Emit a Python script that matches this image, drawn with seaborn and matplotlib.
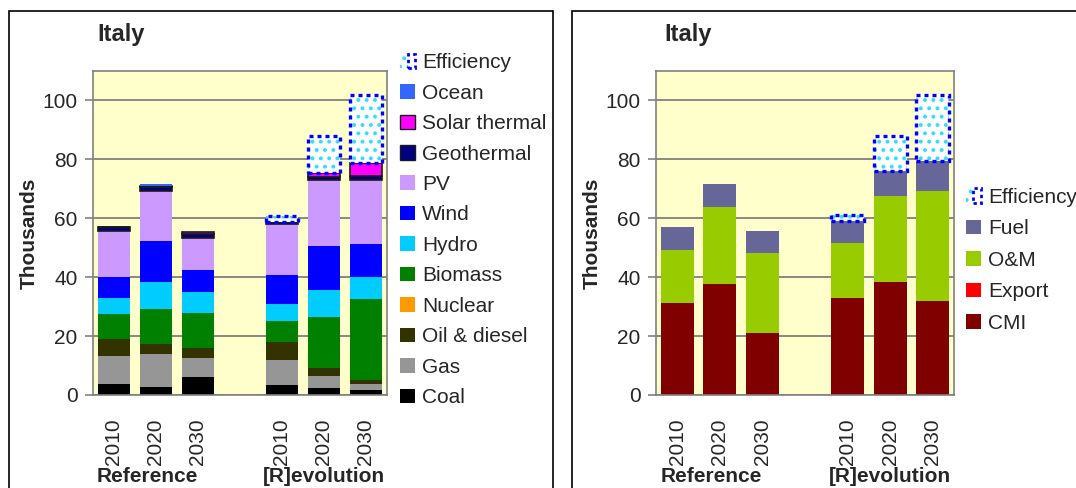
import matplotlib
matplotlib.use("Agg")
import matplotlib.pyplot as plt
import matplotlib.transforms as mtransforms
from matplotlib.patches import Patch, Rectangle
from matplotlib.legend_handler import HandlerTuple
import numpy as np
import pandas as pd
import seaborn as sns

# bar slots: three Reference years, a gap, three [R]evolution years
slots = [0, 1, 2, 4, 5, 6]
years = ["2010", "2020", "2030", "2010", "2020", "2030"]
scenarios = ["Reference", "[R]evolution"]
scenario_x = [0.8, 5.0]

# left chart (thousands)
coal = [3.7, 2.7, 6.1, 3.4, 2.4, 1.7]
gas = [9.5, 11.2, 6.5, 8.5, 4.1, 2.0]
oil_diesel = [5.8, 3.4, 3.4, 6.1, 2.7, 1.4]
nuclear = [0, 0, 0, 0, 0, 0]
biomass = [8.5, 11.9, 11.9, 7.1, 17.3, 27.5]
hydro = [5.5, 9.2, 7.1, 5.8, 9.2, 7.5]
wind = [7.1, 13.9, 7.5, 9.9, 14.9, 11.2]
pv = [15.6, 17.0, 10.9, 17.3, 22.5, 21.8]
geothermal = [1.2, 1.4, 1.3, 0.7, 1.0, 1.3]
solar_thermal = [0.2, 0.4, 0.7, 0.1, 1.3, 4.4]
ocean = [0, 0.5, 0, 0, 0, 0]
efficiency_tech = [0, 0, 0, 1.8, 12.4, 22.9]

# right chart (thousands)
cmi = [31.1, 37.6, 21.2, 33.1, 38.3, 31.8]
export = [0, 0, 0, 0, 0, 0]
om = [18.1, 26.3, 27.0, 18.5, 29.4, 37.6]
fuel = [7.9, 7.8, 7.5, 7.5, 8.5, 9.9]
efficiency_cost = [0, 0, 0, 1.9, 11.8, 22.6]

tech_layers = [
    ("Coal", coal, "#000000", False),
    ("Gas", gas, "#969696", False),
    ("Oil & diesel", oil_diesel, "#333300", False),
    ("Nuclear", nuclear, "#FF9900", False),
    ("Biomass", biomass, "#008000", False),
    ("Hydro", hydro, "#00CCFF", False),
    ("Wind", wind, "#0000FF", False),
    ("PV", pv, "#CC99FF", False),
    ("Geothermal", geothermal, "#000080", True),
    ("Solar thermal", solar_thermal, "#FF00FF", True),
    ("Ocean", ocean, "#3366FF", False),
]
cost_layers = [
    ("CMI", cmi, "#800000", False),
    ("Export", export, "#FF0000", False),
    ("O&M", om, "#99CC00", False),
    ("Fuel", fuel, "#666699", False),
]

sns.set_style("white")
plt.rcParams["font.family"] = ["Liberation Sans", "DejaVu Sans"]
plt.rcParams["hatch.linewidth"] = 1.6

FS = 15
GRAY = "#808080"
BAR_W = 0.78

fig = plt.figure(figsize=(10.76, 4.88), dpi=100)
ax_l = fig.add_axes([93 / 1076, 1 - 395 / 488, 294 / 1076, 324 / 488])
ax_r = fig.add_axes([656 / 1076, 1 - 395 / 488, 298 / 1076, 324 / 488])


def draw_stack(ax, layers, eff):
    bottom = np.zeros(len(slots))
    for name, vals, color, edged in layers:
        df = pd.DataFrame({"slot": slots, "value": vals})
        sns.barplot(data=df, x="slot", y="value", native_scale=True, orient="x",
                    errorbar=None, color=color, saturation=1, width=BAR_W,
                    bottom=bottom.copy(), ax=ax)
        for patch, v in zip(ax.containers[-1], vals):
            patch.set_facecolor(color)
            if edged and v > 0:
                patch.set_edgecolor("#1a1a1a")
                patch.set_linewidth(1.2)
            else:
                patch.set_linewidth(0)
        bottom += np.array(vals)
    # efficiency savings on top of the [R]evolution bars
    keep = [i for i, v in enumerate(eff) if v > 0]
    df = pd.DataFrame({"slot": [slots[i] for i in keep], "value": [eff[i] for i in keep]})
    base = [bottom[i] for i in keep]
    sns.barplot(data=df, x="slot", y="value", native_scale=True, orient="x",
                errorbar=None, color="white", saturation=1, width=BAR_W,
                bottom=base, ax=ax)
    for patch in ax.containers[-1]:
        patch.set_facecolor("white")
        patch.set_edgecolor("#33DDFF")
        patch.set_hatch("..")
        patch.set_linewidth(0)
    sns.barplot(data=df, x="slot", y="value", native_scale=True, orient="x",
                errorbar=None, color="white", saturation=1, width=BAR_W,
                bottom=base, ax=ax)
    for patch in ax.containers[-1]:
        patch.set_fill(False)
        patch.set_edgecolor("#0000FF")
        patch.set_linestyle((0, (1.2, 1.2)))
        patch.set_linewidth(2.4)


def style_axes(ax):
    ax.set_facecolor("#FFFFCC")
    ax.set_xlim(-0.5, 6.5)
    ax.set_ylim(0, 110)
    ax.set_yticks(range(0, 101, 20))
    ax.yaxis.grid(True, color=GRAY, linewidth=1.3)
    ax.xaxis.grid(False)
    ax.set_axisbelow(True)
    for sp in ax.spines.values():
        sp.set_visible(True)
        sp.set_color(GRAY)
        sp.set_linewidth(1.2)
    ax.set_xticks(slots)
    ax.set_xticklabels(years, rotation=90, fontsize=FS)
    ax.set_xticks(np.arange(-0.5, 7, 1), minor=True)
    ax.tick_params(axis="x", which="major", length=0, pad=17)
    ax.tick_params(axis="x", which="minor", length=7, width=1.2, color=GRAY, direction="out")
    ax.tick_params(axis="y", length=6, width=1.2, color=GRAY, direction="out",
                   labelsize=FS, pad=5, left=True)
    ax.set_xlabel("")
    ax.set_ylabel("Thousands", fontsize=FS, fontweight="bold", labelpad=3)
    trans = mtransforms.blended_transform_factory(ax.transData, ax.transAxes)
    for label, x in zip(scenarios, scenario_x):
        ax.text(x, -0.25, label, transform=trans, ha="center", va="center",
                fontsize=FS, fontweight="bold")


draw_stack(ax_l, tech_layers, efficiency_tech)
draw_stack(ax_r, cost_layers, efficiency_cost)
style_axes(ax_l)
style_axes(ax_r)

eff_handle = (Patch(facecolor="white", edgecolor="#33DDFF", hatch="..", linewidth=0),
              Patch(fill=False, edgecolor="#0000FF", linestyle=(0, (1.2, 1.2)), linewidth=2))


def add_legend(ax, layers, anchor, spacing):
    handles = [eff_handle]
    labels = ["Efficiency"]
    for name, vals, color, edged in reversed(layers):
        handles.append(Patch(facecolor=color, edgecolor="#1a1a1a" if edged else color,
                             linewidth=1.0 if edged else 0))
        labels.append(name)
    ax.legend(handles, labels, loc="upper left", bbox_to_anchor=anchor,
              frameon=False, fontsize=FS, handlelength=0.7, handleheight=0.7,
              handletextpad=0.35, labelspacing=spacing, borderpad=0, borderaxespad=0,
              handler_map={tuple: HandlerTuple(ndivide=None, pad=0)})


add_legend(ax_l, tech_layers, (1.045, 1.055), 0.55)
add_legend(ax_r, cost_layers, (1.04, 0.64), 0.6)

fig.text(97 / 1076, 1 - 35 / 488, "Italy", fontsize=17, fontweight="bold", va="center")
fig.text(664 / 1076, 1 - 35 / 488, "Italy", fontsize=17, fontweight="bold", va="center")

fig.add_artist(Rectangle((9 / 1076, -0.1), 544 / 1076, 1.1 - 11 / 488, fill=False,
                         edgecolor="black", linewidth=1.2, transform=fig.transFigure))
fig.add_artist(Rectangle((572 / 1076, -0.1), 0.5, 1.1 - 11 / 488, fill=False,
                         edgecolor="black", linewidth=1.2, transform=fig.transFigure))

fig.savefig("out.png", dpi=100)
